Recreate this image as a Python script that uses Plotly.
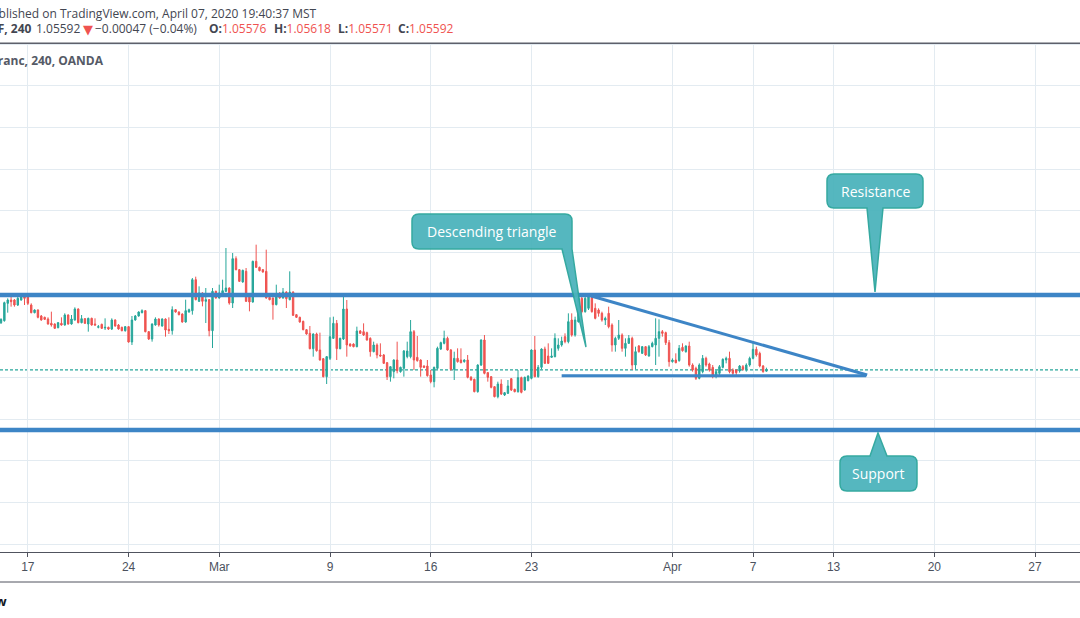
import plotly.graph_objects as go

# ---------------- data (EUR/CHF, 240 min candles) ----------------
opens = [1.06158,1.06182,1.06390,1.06430,1.06430,1.06370,1.06430,1.06470,1.06470,1.06370,
1.06278,1.06310,1.06238,1.06222,1.06202,1.06150,1.06142,1.06098,1.06150,1.06130,
1.06250,1.06142,1.06190,1.06322,1.06158,1.06206,1.06142,1.06210,1.06142,1.06102,
1.06138,1.06094,1.06102,1.06082,1.06190,1.06130,1.06102,1.06062,1.06110,1.05926,
1.06190,1.06238,1.06278,1.06302,1.06050,1.05962,1.06130,1.06202,1.06118,1.06202,
1.06078,1.06062,1.06314,1.06286,1.06262,1.06166,1.06286,1.06302,1.06674,1.06414,
1.06514,1.06414,1.06434,1.06062,1.06534,1.06454,1.06494,1.06534,1.06574,1.06394,
1.06926,1.06794,1.06646,1.06774,1.06494,1.06406,1.06894,1.06822,1.06794,1.06774,
1.06462,1.06454,1.06374,1.06514,1.06454,1.06526,1.06434,1.06526,1.06254,1.06222,
1.06174,1.06074,1.06030,1.05846,1.06022,1.05830,1.05726,1.05510,1.05730,1.05970,
1.06150,1.05846,1.05962,1.06322,1.05902,1.05902,1.05870,1.06058,1.06050,1.06038,
1.05970,1.05810,1.05890,1.05770,1.05770,1.05678,1.05510,1.05570,1.05710,1.05570,
1.05610,1.05750,1.05750,1.06050,1.05742,1.05710,1.05638,1.05638,1.05530,1.05450,
1.05610,1.05842,1.05910,1.05970,1.05830,1.05598,1.05730,1.05710,1.05690,1.05710,
1.05502,1.05478,1.05330,1.05650,1.05950,1.05558,1.05510,1.05390,1.05270,1.05422,
1.05290,1.05310,1.05486,1.05358,1.05330,1.05498,1.05350,1.05462,1.05490,1.05830,
1.05510,1.05622,1.05842,1.05758,1.05742,1.05750,1.05850,1.05890,1.05990,1.05930,
1.06190,1.06010,1.06170,1.06450,1.06290,1.06330,1.06470,1.06330,1.06310,1.06270,
1.06190,1.06270,1.06130,1.05890,1.05970,1.06010,1.05850,1.05910,1.05970,1.05650,
1.05878,1.05790,1.05870,1.05758,1.05870,1.05890,1.05970,1.06050,1.06038,1.05918,
1.05690,1.05710,1.05702,1.05862,1.05810,1.05878,1.05650,1.05610,1.05490,1.05570,
1.05730,1.05662,1.05622,1.05530,1.05550,1.05622,1.05710,1.05730,1.05590,1.05590,
1.05578,1.05630,1.05598,1.05650,1.05730,1.05838,1.05790,1.05638,1.05576]

highs = [1.06210,1.06410,1.06450,1.06502,1.06442,1.06490,1.06502,1.06502,1.06502,1.06390,
1.06318,1.06318,1.06250,1.06230,1.06222,1.06290,1.06150,1.06166,1.06222,1.06270,
1.06258,1.06250,1.06342,1.06330,1.06250,1.06214,1.06218,1.06218,1.06210,1.06130,
1.06146,1.06210,1.06110,1.06210,1.06198,1.06142,1.06110,1.06118,1.06118,1.06238,
1.06250,1.06294,1.06318,1.06310,1.06058,1.06150,1.06222,1.06210,1.06210,1.06210,
1.06222,1.06354,1.06322,1.06294,1.06270,1.06434,1.06326,1.06694,1.06710,1.06594,
1.06522,1.06574,1.06442,1.06574,1.06542,1.06614,1.06674,1.07054,1.06582,1.06994,
1.06954,1.06802,1.06794,1.06814,1.06502,1.06902,1.07094,1.06830,1.06802,1.07034,
1.06470,1.06462,1.06614,1.06522,1.06574,1.06534,1.06774,1.06534,1.06262,1.06230,
1.06182,1.06082,1.06118,1.06030,1.06038,1.06038,1.05734,1.05758,1.06222,1.06230,
1.06190,1.05978,1.06470,1.06430,1.05910,1.05910,1.06110,1.06070,1.06150,1.06050,
1.05982,1.05930,1.05910,1.05910,1.05782,1.05686,1.05638,1.05718,1.05930,1.05630,
1.05830,1.05930,1.06190,1.06070,1.05998,1.05718,1.05646,1.05710,1.05590,1.05630,
1.05870,1.05930,1.06062,1.05990,1.05842,1.05810,1.05850,1.05850,1.05718,1.05770,
1.05518,1.05486,1.05658,1.05958,1.06010,1.05566,1.05518,1.05398,1.05450,1.05478,
1.05326,1.05470,1.05494,1.05366,1.05590,1.05510,1.05510,1.05526,1.05838,1.05998,
1.05650,1.05850,1.05870,1.05910,1.05850,1.06030,1.05970,1.05990,1.06030,1.06270,
1.06270,1.06230,1.06510,1.06478,1.06490,1.06490,1.06490,1.06390,1.06330,1.06290,
1.06230,1.06350,1.06150,1.05990,1.06190,1.06030,1.05970,1.06010,1.05990,1.05870,
1.05890,1.05878,1.05878,1.05890,1.05930,1.06210,1.06198,1.06070,1.06050,1.05950,
1.05730,1.05790,1.05890,1.05910,1.05886,1.05930,1.05670,1.05630,1.05670,1.05770,
1.05750,1.05678,1.05650,1.05590,1.05650,1.05730,1.05750,1.05810,1.05610,1.05598,
1.05650,1.05650,1.05670,1.05750,1.05930,1.05870,1.05810,1.05650,1.05618]

lows = [1.06142,1.06170,1.06278,1.06350,1.06350,1.06358,1.06422,1.06370,1.06370,1.06270,
1.06270,1.06210,1.06182,1.06190,1.06134,1.06110,1.06082,1.06090,1.06122,1.06122,
1.06134,1.06134,1.06182,1.06150,1.06150,1.06142,1.06050,1.06122,1.06122,1.06090,
1.06082,1.06070,1.06070,1.06070,1.06110,1.06074,1.06054,1.06050,1.05918,1.05890,
1.06182,1.06230,1.06270,1.06042,1.05950,1.05930,1.06122,1.06110,1.06110,1.05990,
1.06022,1.06014,1.06278,1.06246,1.06158,1.06158,1.06278,1.06254,1.06426,1.06406,
1.06354,1.06154,1.05994,1.05854,1.06446,1.06446,1.06486,1.06526,1.06374,1.06334,
1.06786,1.06646,1.06638,1.06406,1.06294,1.06398,1.06814,1.06774,1.06758,1.06446,
1.06426,1.06194,1.06366,1.06446,1.06446,1.06334,1.06426,1.06238,1.06214,1.06158,
1.06066,1.06014,1.05838,1.05750,1.05810,1.05702,1.05502,1.05422,1.05710,1.05962,
1.05710,1.05838,1.05950,1.05750,1.05870,1.05862,1.05862,1.06022,1.05998,1.05942,
1.05750,1.05802,1.05730,1.05750,1.05662,1.05470,1.05450,1.05490,1.05550,1.05558,
1.05510,1.05730,1.05730,1.05590,1.05690,1.05510,1.05614,1.05510,1.05430,1.05382,
1.05598,1.05830,1.05898,1.05822,1.05582,1.05470,1.05678,1.05670,1.05678,1.05490,
1.05462,1.05322,1.05318,1.05638,1.05538,1.05450,1.05370,1.05262,1.05250,1.05290,
1.05278,1.05302,1.05338,1.05322,1.05318,1.05310,1.05342,1.05454,1.05478,1.05502,
1.05498,1.05598,1.05662,1.05662,1.05734,1.05742,1.05822,1.05870,1.05910,1.05910,
1.05990,1.05990,1.06158,1.06270,1.06278,1.06310,1.06278,1.06198,1.06230,1.06170,
1.06130,1.06090,1.05810,1.05810,1.05950,1.05810,1.05750,1.05902,1.05590,1.05598,
1.05798,1.05782,1.05758,1.05750,1.05862,1.05650,1.05750,1.05990,1.05890,1.05630,
1.05678,1.05670,1.05690,1.05810,1.05798,1.05630,1.05570,1.05470,1.05478,1.05550,
1.05630,1.05570,1.05490,1.05490,1.05510,1.05610,1.05670,1.05550,1.05530,1.05510,
1.05558,1.05582,1.05570,1.05630,1.05718,1.05750,1.05622,1.05558,1.05571]

closes = [1.06198,1.06398,1.06430,1.06410,1.06370,1.06450,1.06470,1.06450,1.06390,1.06278,
1.06310,1.06222,1.06190,1.06198,1.06142,1.06130,1.06090,1.06158,1.06130,1.06250,
1.06142,1.06202,1.06322,1.06158,1.06206,1.06150,1.06210,1.06130,1.06130,1.06110,
1.06090,1.06102,1.06082,1.06190,1.06118,1.06082,1.06062,1.06110,1.05926,1.06190,
1.06238,1.06286,1.06302,1.06050,1.05962,1.06142,1.06202,1.06130,1.06202,1.06070,
1.06062,1.06314,1.06286,1.06254,1.06166,1.06302,1.06314,1.06674,1.06434,1.06514,
1.06414,1.06434,1.06062,1.06534,1.06454,1.06514,1.06542,1.06574,1.06394,1.06926,
1.06794,1.06654,1.06786,1.06414,1.06406,1.06894,1.06822,1.06782,1.06766,1.06454,
1.06434,1.06374,1.06494,1.06454,1.06526,1.06446,1.06526,1.06246,1.06222,1.06166,
1.06074,1.06022,1.05846,1.06022,1.05822,1.05710,1.05510,1.05750,1.05990,1.06150,
1.05846,1.05970,1.06322,1.05890,1.05878,1.05870,1.06058,1.06030,1.06010,1.05950,
1.05810,1.05890,1.05770,1.05758,1.05670,1.05510,1.05630,1.05710,1.05582,1.05622,
1.05818,1.05818,1.06050,1.05710,1.05702,1.05622,1.05622,1.05522,1.05450,1.05622,
1.05850,1.05918,1.05970,1.05830,1.05598,1.05730,1.05690,1.05678,1.05710,1.05502,
1.05470,1.05330,1.05650,1.05950,1.05550,1.05502,1.05382,1.05270,1.05422,1.05302,
1.05318,1.05398,1.05350,1.05330,1.05498,1.05322,1.05502,1.05518,1.05830,1.05510,
1.05622,1.05842,1.05670,1.05670,1.05758,1.05970,1.05890,1.05938,1.05930,1.06170,
1.06010,1.06190,1.06450,1.06290,1.06450,1.06470,1.06290,1.06210,1.06270,1.06190,
1.06210,1.06110,1.05890,1.05970,1.06010,1.05850,1.05910,1.05970,1.05650,1.05810,
1.05810,1.05870,1.05770,1.05870,1.05910,1.05970,1.06050,1.06030,1.05918,1.05690,
1.05710,1.05678,1.05850,1.05822,1.05878,1.05650,1.05590,1.05490,1.05650,1.05730,
1.05650,1.05590,1.05530,1.05570,1.05630,1.05718,1.05730,1.05570,1.05550,1.05558,
1.05638,1.05598,1.05650,1.05730,1.05838,1.05770,1.05638,1.05570,1.05592]

# date labels of the time axis (candle index where each label sits)
tick_idx = [8, 38, 65, 98, 128, 158, 200, 224, 248, 278, 308]
tick_text = ["17", "24", "Mar", "9", "16", "23", "Apr", "7", "13", "20", "27"]

last_price = 1.05592
resistance = 1.0649
support = 1.0487
tri_upper_x = [175.8, 258.0]
tri_upper_y = [1.06478, 1.0553]
tri_lower_x = [167.0, 257.7]
tri_lower_y = [1.05522, 1.05522]

# ---------------- styling ----------------
W, H = 1080, 618
PT, PB = 43, 552
UP, DOWN = "#26a69a", "#ef5350"
GRID = "#e3ebf1"
AX = "#50535e"
BLUE = "#3d85c6"
CALL_FILL = "#4cb4bc"
CALL_LINE = "#2ba59c"
FONT = "Open Sans, Noto Sans, sans-serif"


def xp(px):
    return px / W


def yp(py):
    return (PB - py) / (PB - PT)


fig = go.Figure(go.Candlestick(
    x=list(range(len(opens))), open=opens, high=highs, low=lows, close=closes,
    increasing=dict(line=dict(color=UP, width=1), fillcolor=UP),
    decreasing=dict(line=dict(color=DOWN, width=1), fillcolor=DOWN),
    whiskerwidth=0, showlegend=False, hoverinfo="skip"))

shapes = []
# last price dotted line
shapes.append(dict(type="line", xref="paper", yref="y", x0=0, x1=1, y0=last_price, y1=last_price,
                   line=dict(color=UP, width=1.2, dash="3px,2px"), layer="between"))
# support / resistance
for lv in (resistance, support):
    shapes.append(dict(type="line", xref="paper", yref="y", x0=0, x1=1, y0=lv, y1=lv,
                       line=dict(color=BLUE, width=4.5), layer="above"))
# descending triangle
shapes.append(dict(type="line", xref="x", yref="y", x0=tri_upper_x[0], x1=tri_upper_x[1],
                   y0=tri_upper_y[0], y1=tri_upper_y[1], line=dict(color=BLUE, width=3), layer="above"))
shapes.append(dict(type="line", xref="x", yref="y", x0=tri_lower_x[0], x1=tri_lower_x[1],
                   y0=tri_lower_y[0], y1=tri_lower_y[1], line=dict(color=BLUE, width=3), layer="above"))

# header separator and bottom line
shapes.append(dict(type="line", xref="paper", yref="paper", x0=0, x1=1, y0=yp(43.3), y1=yp(43.3),
                   line=dict(color="#5d606b", width=1.5), layer="above"))
shapes.append(dict(type="line", xref="paper", yref="paper", x0=0, x1=1, y0=yp(582), y1=yp(582),
                   line=dict(color=AX, width=1), layer="above"))


def path(cmds):
    out = []
    for c in cmds:
        if isinstance(c, str):
            out.append(c)
        else:
            out.append(f"{xp(c[0]):.5f},{yp(c[1]):.5f}")
    return " ".join(out)


r = 7
callouts = [
    # descending triangle (pointer down-right)
    ["M", (412 + r, 214), "L", (572 - r, 214), "Q", (572, 214), (572, 214 + r), "L", (572, 249),
     "L", (586, 347), "L", (562, 249), "L", (412 + r, 249), "Q", (412, 249), (412, 249 - r),
     "L", (412, 214 + r), "Q", (412, 214), (412 + r, 214), "Z"],
    # resistance (pointer down)
    ["M", (827 + r, 174), "L", (923 - r, 174), "Q", (923, 174), (923, 174 + r), "L", (923, 208 - r),
     "Q", (923, 208), (923 - r, 208), "L", (883, 208), "L", (875, 292), "L", (867, 208),
     "L", (827 + r, 208), "Q", (827, 208), (827, 208 - r), "L", (827, 174 + r), "Q", (827, 174), (827 + r, 174), "Z"],
    # support (pointer up)
    ["M", (840 + r, 456), "L", (870, 456), "L", (878, 433), "L", (887, 456), "L", (917 - r, 456),
     "Q", (917, 456), (917, 456 + r), "L", (917, 491 - r), "Q", (917, 491), (917 - r, 491),
     "L", (840 + r, 491), "Q", (840, 491), (840, 491 - r), "L", (840, 456 + r), "Q", (840, 456), (840 + r, 456), "Z"],
]
for c in callouts:
    shapes.append(dict(type="path", xref="paper", yref="paper", path=path(c), fillcolor=CALL_FILL,
                       line=dict(color=CALL_LINE, width=1.5), layer="above", opacity=0.95))

annotations = []


def text(px, py, s, anchor="left", size=12, color="#434651", family=FONT):
    annotations.append(dict(xref="paper", yref="paper", x=xp(px), y=yp(py), text=s, showarrow=False,
                            xanchor=anchor, yanchor="middle", font=dict(family=family, size=size, color=color)))


# callout labels
text(492, 231.5, "Descending triangle", "center", 14, "white")
text(875, 191, "Resistance", "center", 14, "white")
text(878.5, 473.5, "Support", "center", 14, "white")

# header
text(319, 13, "Published on TradingView.com, April 07, 2020 19:40:37 MST", "right", 12, "#434651")
text(33.5, 29, "<b>OANDA:EURCHF, 240</b>", "right", 12, "#434651")
text(34, 29, "1.05592", "left", 12, "#434651")
text(81, 29.5, "▼", "left", 13, DOWN, "DejaVu Sans, sans-serif")
text(93, 29, "−0.00047 (−0.04%)", "left", 12, "#434651")
text(207, 29, f"<b>O:</b><span style='color:{DOWN}'>1.05576</span>", "left", 12, "#434651")
text(272, 29, f"<b>H:</b><span style='color:{DOWN}'>1.05618</span>", "left", 12, "#434651")
text(336, 29, f"<b>L:</b><span style='color:{DOWN}'>1.05571</span>", "left", 12, "#434651")
text(396, 29, f"<b>C:</b><span style='color:{DOWN}'>1.05592</span>", "left", 12, "#434651")
# legend of the chart pane
text(105.5, 60.5, "<b>Euro / Swiss Franc, 240, OANDA</b>", "right", 12, "#555a66")
# logo text
text(8.5, 601, "<b>TradingView</b>", "right", 13, "#131722")

fig.update_layout(
    width=W, height=H, margin=dict(l=0, r=0, t=PT, b=H - PB),
    paper_bgcolor="white", plot_bgcolor="white", boxgap=0.4, showlegend=False,
    shapes=shapes, annotations=annotations,
    xaxis=dict(range=[-0.3, 321.4], tickmode="array", tickvals=tick_idx, ticktext=tick_text,
               showgrid=True, gridcolor=GRID, gridwidth=1, zeroline=False,
               showline=True, linecolor=AX, linewidth=1, ticks="outside", ticklen=4, tickcolor=AX,
               tickfont=dict(family="Liberation Sans, Arial, sans-serif", size=12, color="#4c525e"),
               rangeslider=dict(visible=False), fixedrange=True),
    yaxis=dict(range=[1.03406, 1.09514], tick0=1.0, dtick=0.005, showticklabels=False,
               showgrid=True, gridcolor=GRID, gridwidth=1, zeroline=False, showline=False, ticks="",
               fixedrange=True),
)

fig.write_html("out.html", config={"displayModeBar": False})
